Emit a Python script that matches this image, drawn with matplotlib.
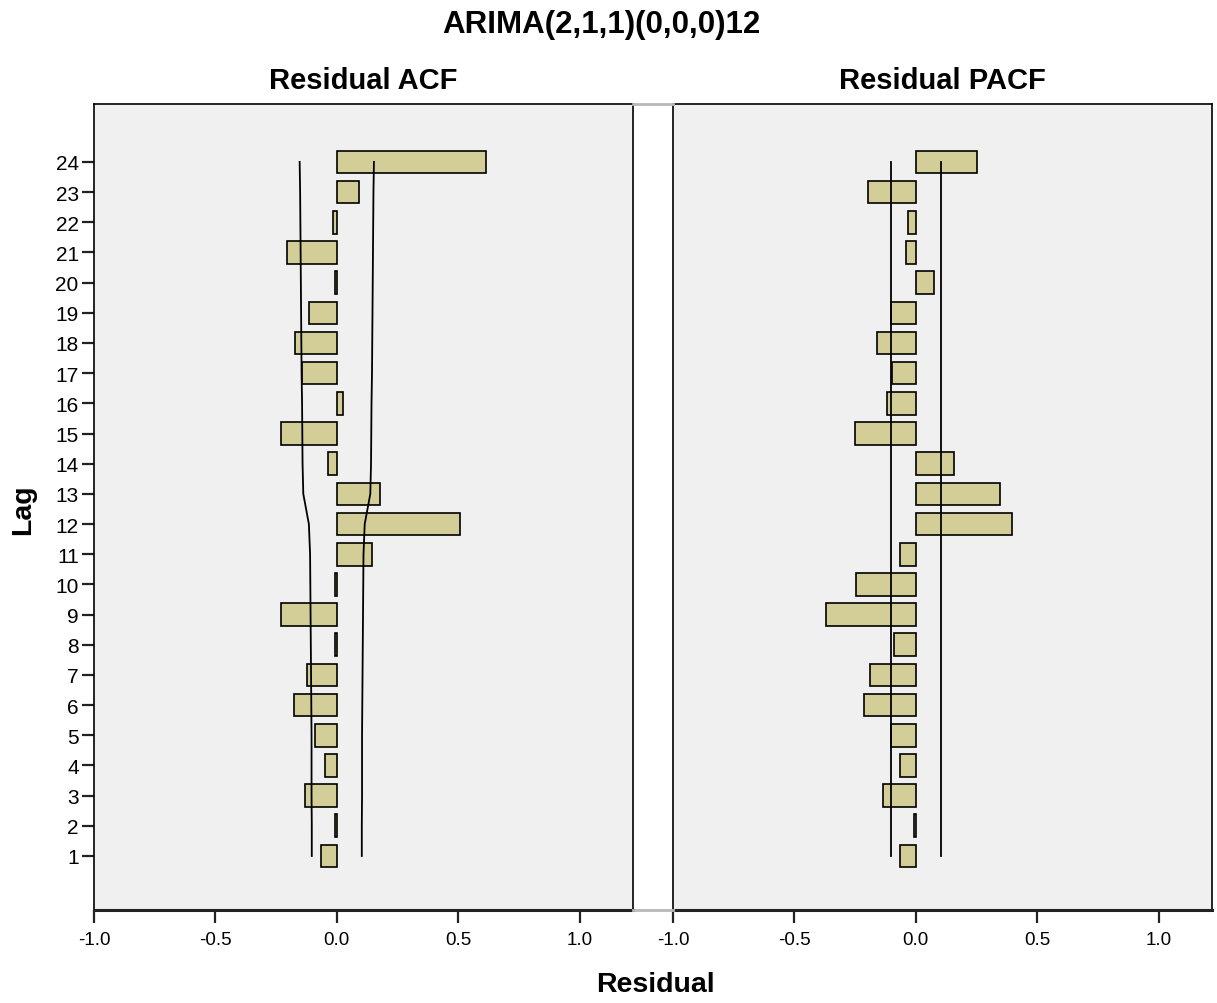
import numpy as np
import matplotlib.pyplot as plt
from matplotlib.lines import Line2D

plt.rcParams['font.family'] = ['Liberation Sans', 'DejaVu Sans']

lags = list(range(1, 25))

# residual autocorrelations, lag 1..24
acf = [-0.067, -0.006, -0.133, -0.048, -0.089, -0.177, -0.122, -0.006,
       -0.230, -0.006, 0.146, 0.507, 0.180, -0.036, -0.230, 0.026,
       -0.144, -0.172, -0.114, -0.006, -0.205, -0.016, 0.092, 0.614]
# confidence limits for the ACF (symmetric about zero)
acf_limit = [0.103, 0.103, 0.104, 0.104, 0.104, 0.105, 0.106, 0.107,
             0.108, 0.109, 0.110, 0.115, 0.138, 0.141, 0.142, 0.143,
             0.145, 0.146, 0.147, 0.148, 0.149, 0.150, 0.151, 0.153]

# residual partial autocorrelations, lag 1..24
pacf = [-0.066, -0.006, -0.134, -0.066, -0.102, -0.215, -0.187, -0.088,
        -0.369, -0.245, -0.066, 0.398, 0.346, 0.159, -0.250, -0.117,
        -0.100, -0.158, -0.102, 0.077, -0.040, -0.032, -0.197, 0.252]
pacf_limit = 0.103

xticks = [-1.0, -0.5, 0.0, 0.5, 1.0]
xticklabels = ['-1.0', '-0.5', '0.0', '0.5', '1.0']

bar_color = '#d3ce98'
panel_color = '#f0f0f0'

W, H = 1217, 1004
fig = plt.figure(figsize=(W / 100, H / 100), dpi=100)
fig.patch.set_facecolor('white')

def px_box(x0, x1, y0, y1):
    return [x0 / W, 1 - y1 / H, (x1 - x0) / W, (y1 - y0) / H]

ax1 = fig.add_axes(px_box(94, 633, 105, 911))
ax2 = fig.add_axes(px_box(673, 1212, 105, 911))

for ax in (ax1, ax2):
    ax.set_facecolor(panel_color)
    ax.set_xlim(-1.0, 1.22)
    ax.set_ylim(-0.79, 25.92)
    ax.set_xticks(xticks)
    ax.set_xticklabels(xticklabels)
    ax.tick_params(axis='x', direction='out', length=9, width=1.6,
                   color='#222222', labelsize=13.5, pad=6)
    for s in ax.spines.values():
        s.set_linewidth(1.2)
        s.set_color('black')
    ax.spines['bottom'].set_linewidth(2.2)
    ax.spines['bottom'].set_color('#222222')

ax1.barh(lags, acf, height=0.75, color=bar_color, edgecolor='black',
         linewidth=1.2, zorder=2)
ax1.plot(acf_limit, lags, color='black', lw=1.3, zorder=3)
ax1.plot([-v for v in acf_limit], lags, color='black', lw=1.3, zorder=3)
ax1.set_yticks(lags)
ax1.tick_params(axis='y', direction='out', length=9, width=1.6,
                color='#222222', labelsize=15, pad=2)

ax2.barh(lags, pacf, height=0.75, color=bar_color, edgecolor='black',
         linewidth=1.2, zorder=2)
ax2.plot([pacf_limit] * len(lags), lags, color='black', lw=1.3, zorder=3)
ax2.plot([-pacf_limit] * len(lags), lags, color='black', lw=1.3, zorder=3)
ax2.set_yticks([])
ax2.tick_params(axis='y', left=False, labelleft=False)

# grey joints in the gap between the two panels
for yy in (105, 911):
    fig.add_artist(Line2D([633 / W, 673 / W], [1 - yy / H, 1 - yy / H],
                          color='#b8b8b8', lw=2.0))

fig.text(601 / W, 1 - 25 / H, 'ARIMA(2,1,1)(0,0,0)12', ha='center',
         va='center', fontsize=22.5, fontweight='bold')
fig.text(363 / W, 1 - 81 / H, 'Residual ACF', ha='center', va='center',
         fontsize=21, fontweight='bold')
fig.text(942 / W, 1 - 81 / H, 'Residual PACF', ha='center', va='center',
         fontsize=21, fontweight='bold')
fig.text(23 / W, 1 - 510 / H, 'Lag', ha='center', va='center',
         rotation=90, fontsize=20.5, fontweight='bold')
fig.text(655 / W, 1 - 985 / H, 'Residual', ha='center', va='center',
         fontsize=20.5, fontweight='bold')

fig.savefig('out.png', dpi=100)
